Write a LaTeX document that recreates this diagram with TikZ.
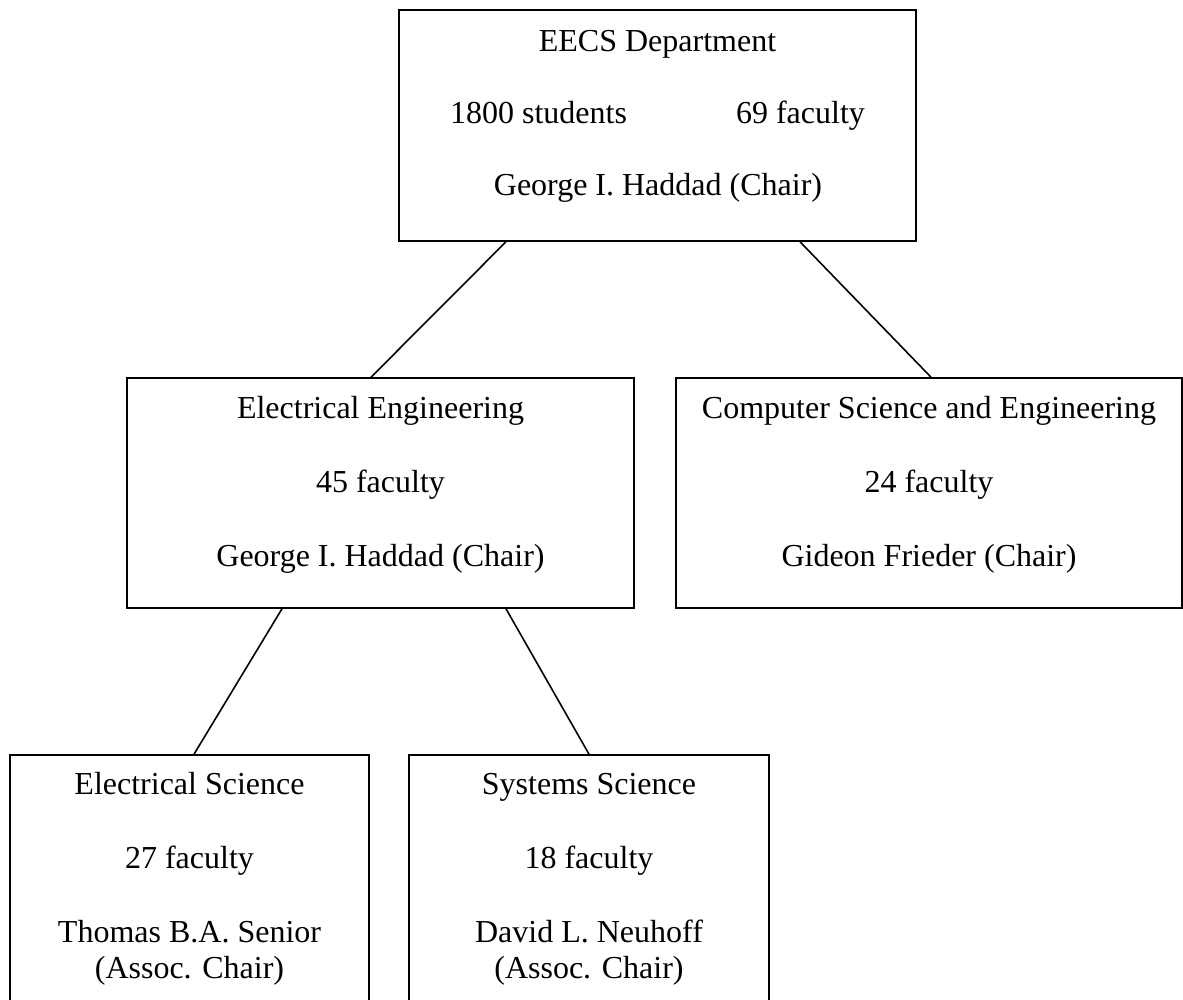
\documentclass[tikz,border=0pt]{standalone}
\usepackage{fontspec}
\setmainfont{Liberation Serif}
\usepackage{tikz}
\usetikzlibrary{calc}

\begin{document}
\begin{tikzpicture}[x=0.5pt,y=-0.5pt,
    unit/.style={draw,line width=0.8pt,rectangle,inner sep=0pt},
    lbl/.style={anchor=base,inner sep=0pt,font=\fontsize{16}{18}\selectfont},
    link/.style={line width=0.8pt}]
    \useasboundingbox (0,0) rectangle (1183,1000);
    \clip (0,0) rectangle (1183,1000);

    \node[unit,minimum width=258.5pt,minimum height=115.5pt] (dept) at (657.5,125.5) {};
    \node[unit,minimum width=253.5pt,minimum height=115pt] (ee) at (380.5,493) {};
    \node[unit,minimum width=253pt,minimum height=115pt] (cse) at (929,493) {};
    \node[unit,minimum width=179.5pt,minimum height=127.5pt] (es) at (189.5,882.5) {};
    \node[unit,minimum width=180pt,minimum height=127.5pt] (ss) at (589,882.5) {};

    \node[lbl] (dept-name) at (657.5,52) {EECS Department};
    \node[lbl] (dept-stud) at (538.5,124) {1800 students};
    \node[lbl] (dept-fac) at (800.5,124) {69 faculty};
    \node[lbl] (dept-chair) at (658,196) {George I. Haddad (Chair)};

    \node[lbl] (ee-name) at (380.5,418) {Electrical Engineering};
    \node[lbl] (ee-fac) at (380.5,492) {45 faculty};
    \node[lbl] (ee-chair) at (380.5,566) {George I. Haddad (Chair)};

    \node[lbl] (cse-name) at (929,418) {Computer Science and Engineering};
    \node[lbl] (cse-fac) at (929,492) {24 faculty};
    \node[lbl] (cse-chair) at (929,566) {Gideon Frieder (Chair)};

    \node[lbl] (es-name) at (189.5,794) {Electrical Science};
    \node[lbl] (es-fac) at (189.5,868) {27 faculty};
    \node[lbl] (es-chair) at (189.5,942) {Thomas B.A. Senior};
    \node[lbl] (es-assoc) at (189.5,978) {(Assoc. Chair)};

    \node[lbl] (ss-name) at (589,794) {Systems Science};
    \node[lbl] (ss-fac) at (589,868) {18 faculty};
    \node[lbl] (ss-chair) at (589,942) {David L. Neuhoff};
    \node[lbl] (ss-assoc) at (589,978) {(Assoc. Chair)};

    \draw[link] ([xshift=-75.75pt]dept.south) -- ([xshift=-4.75pt]ee.north);
    \draw[link] ([xshift=71.25pt]dept.south) -- ([xshift=1pt]cse.north);
    \draw[link] ([xshift=-49.25pt]ee.south) -- ([xshift=2.25pt]es.north);
    \draw[link] ([xshift=62.75pt]ee.south) -- (ss.north);
\end{tikzpicture}
\end{document}
